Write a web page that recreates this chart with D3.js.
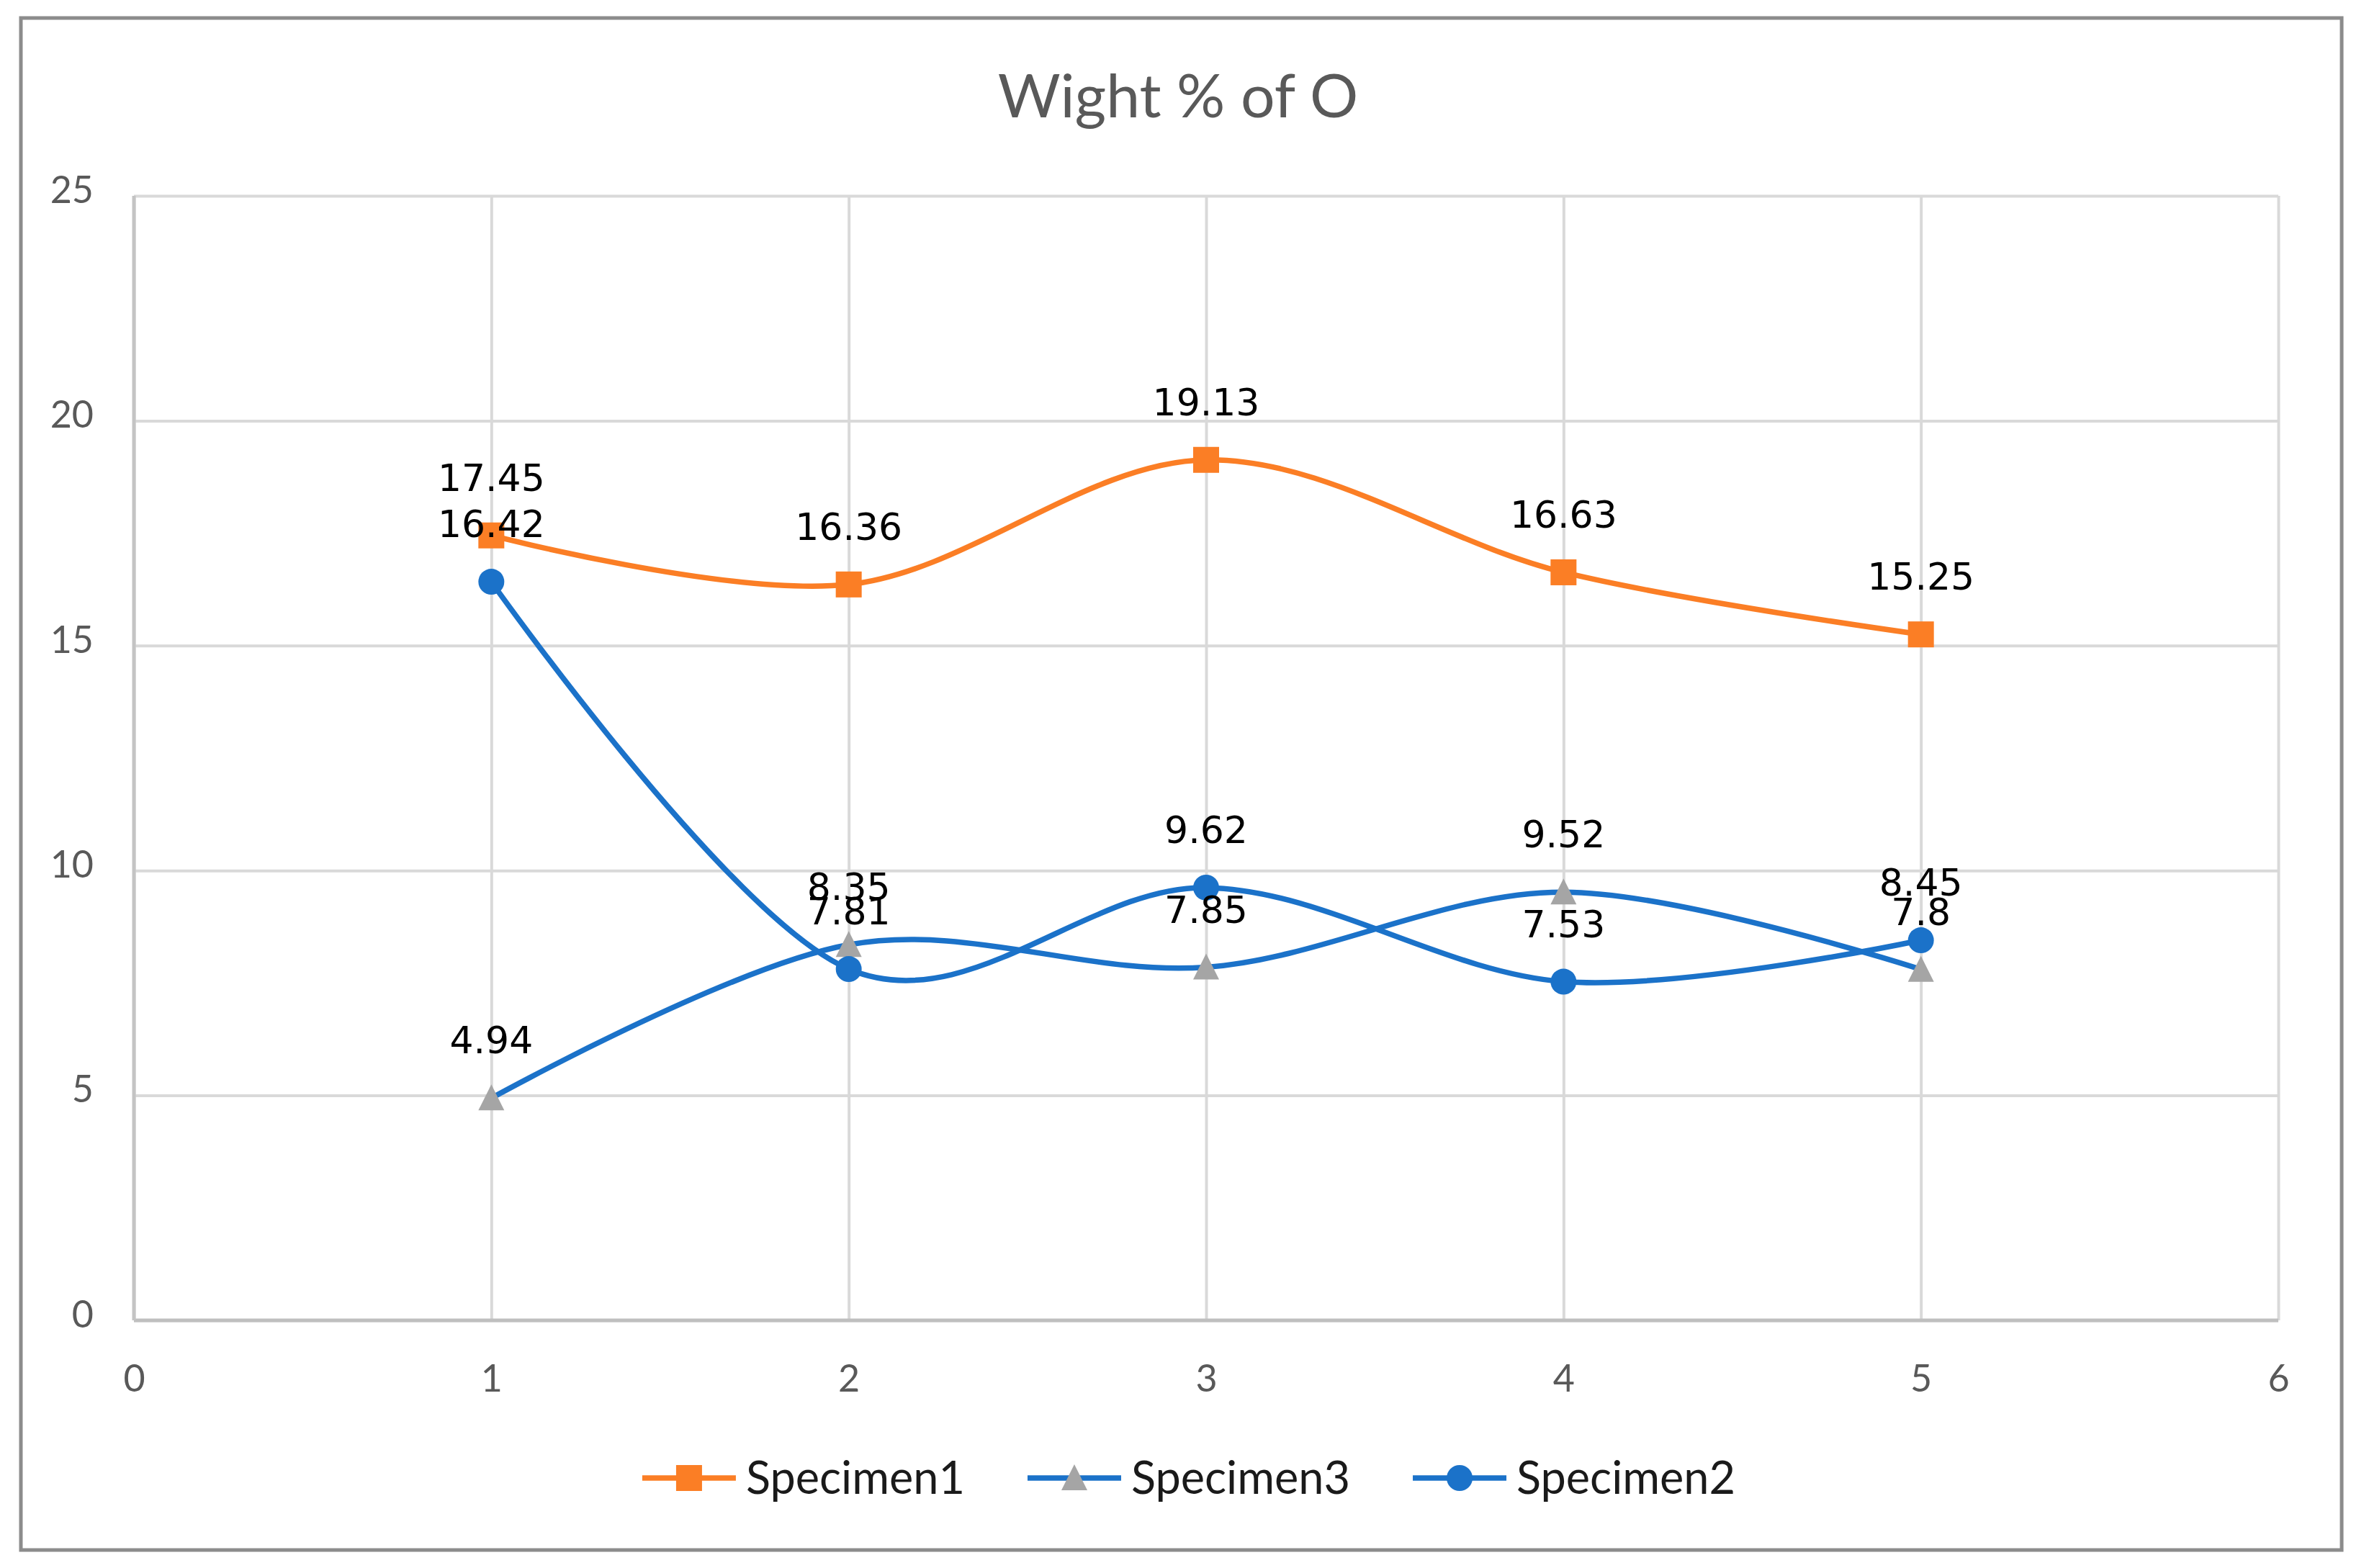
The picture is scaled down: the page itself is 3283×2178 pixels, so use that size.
<!DOCTYPE html>
<html>
<head>
<meta charset="utf-8">
<script src="https://cdn.jsdelivr.net/npm/d3@7"></script>
<style>
  body { margin: 0; background: #fff; }
</style>
</head>
<body>
<div id="chart"></div>
<script>
// data
var xValues = [1, 2, 3, 4, 5];
var specimen1 = [17.45, 16.36, 19.13, 16.63, 15.25];
var specimen3 = [4.94, 8.35, 7.85, 9.52, 7.8];
var specimen2 = [16.42, 7.81, 9.62, 7.53, 8.45];
var seriesNames = ['Specimen1', 'Specimen3', 'Specimen2'];
var xTickValues = [0, 1, 2, 3, 4, 5, 6];
var yTickValues = [0, 5, 10, 15, 20, 25];
var chartTitle = 'Wight % of O';

// svg container
var width = 3283;
var height = 2178;

// plot area
var margin = { top: 272, right: 119, bottom: 344, left: 186 };
var chartWidth = width - margin.left - margin.right;
var chartHeight = height - margin.top - margin.bottom;

var orange = '#fb7e25';
var blue = '#1b72c9';
var grey = '#a5a5a5';
var calibri = 'Lato, "Open Sans", sans-serif';

var svg = d3.select('#chart').append('svg')
    .attr('width', width)
    .attr('height', height)
    .style('display', 'block');

svg.append('rect')
    .attr('width', width)
    .attr('height', height)
    .attr('fill', '#fff');

// outer chart border
svg.append('rect')
    .attr('x', 29)
    .attr('y', 25)
    .attr('width', 3223)
    .attr('height', 2128)
    .attr('fill', 'none')
    .attr('stroke', '#8c8c8c')
    .attr('stroke-width', 5);

var chartGroup = svg.append('g')
    .attr('transform', `translate(${margin.left}, ${margin.top})`);

var xScale = d3.scaleLinear().domain([0, 6]).range([0, chartWidth]);
var yScale = d3.scaleLinear().domain([0, 25]).range([chartHeight, 0]);

// gridlines
var xGrid = chartGroup.append('g')
    .call(d3.axisBottom(xScale).tickValues(xTickValues).tickSize(chartHeight).tickFormat(''));
xGrid.select('.domain').remove();
xGrid.selectAll('line').attr('stroke', '#d9d9d9').attr('stroke-width', 4);

var yGrid = chartGroup.append('g')
    .call(d3.axisLeft(yScale).tickValues(yTickValues).tickSize(-chartWidth).tickFormat(''));
yGrid.select('.domain').remove();
yGrid.selectAll('line').attr('stroke', '#d9d9d9').attr('stroke-width', 4);

// axis lines
chartGroup.append('line')
    .attr('x1', 0).attr('x2', chartWidth)
    .attr('y1', yScale(0)).attr('y2', yScale(0))
    .attr('stroke', '#bfbfbf').attr('stroke-width', 5);
chartGroup.append('line')
    .attr('x1', xScale(0)).attr('x2', xScale(0))
    .attr('y1', 0).attr('y2', chartHeight)
    .attr('stroke', '#c4c4c4').attr('stroke-width', 5);

// tick labels
var xAxis = chartGroup.append('g')
    .attr('transform', `translate(0, ${chartHeight})`)
    .call(d3.axisBottom(xScale).tickValues(xTickValues).tickFormat(d3.format('d')).tickSize(0).tickPadding(62));
xAxis.select('.domain').remove();
xAxis.selectAll('text')
    .style('font-family', calibri)
    .style('font-size', '52px')
    .attr('fill', '#595959');

var yAxis = chartGroup.append('g')
    .call(d3.axisLeft(yScale).tickValues(yTickValues).tickFormat(d3.format('d')).tickSize(0).tickPadding(56));
yAxis.select('.domain').remove();
yAxis.selectAll('text')
    .style('font-family', calibri)
    .style('font-size', '52px')
    .attr('dy', '0.18em')
    .attr('fill', '#595959');

// title
svg.append('text')
    .attr('x', 1636)
    .attr('y', 163)
    .attr('text-anchor', 'middle')
    .style('font-family', calibri)
    .style('font-size', '84px')
    .attr('fill', '#595959')
    .text(chartTitle);

// series
var triangle = 'M0,-19L18,17L-18,17Z';
var series = [
    { name: seriesNames[0], values: specimen1, line: orange, marker: orange, shape: 'square' },
    { name: seriesNames[1], values: specimen3, line: blue, marker: grey, shape: 'triangle' },
    { name: seriesNames[2], values: specimen2, line: blue, marker: blue, shape: 'circle' }
];

function drawMarker(g, shape, color) {
    if (shape === 'square') {
        g.append('rect').attr('x', -18).attr('y', -18).attr('width', 36).attr('height', 36).attr('fill', color);
    } else if (shape === 'triangle') {
        g.append('path').attr('d', triangle).attr('fill', color);
    } else {
        g.append('circle').attr('r', 18).attr('fill', color);
    }
}

var line = d3.line()
    .x(function(d) { return xScale(d.x); })
    .y(function(d) { return yScale(d.y); })
    .curve(d3.curveCardinal.tension(0));

series.forEach(function(s) {
    var pts = xValues.map(function(x, i) { return { x: x, y: s.values[i] }; });
    chartGroup.append('path')
        .datum(pts)
        .attr('d', line)
        .attr('fill', 'none')
        .attr('stroke', s.line)
        .attr('stroke-width', 7.5)
        .attr('stroke-linecap', 'round');
    chartGroup.selectAll(null)
        .data(pts)
        .enter()
        .append('g')
        .attr('transform', function(d) { return `translate(${xScale(d.x)}, ${yScale(d.y)})`; })
        .each(function() { drawMarker(d3.select(this), s.shape, s.marker); });
});

// data labels
series.forEach(function(s) {
    chartGroup.selectAll(null)
        .data(s.values)
        .enter()
        .append('text')
        .attr('x', function(d, i) { return xScale(xValues[i]); })
        .attr('y', function(d) { return yScale(d) - 62; })
        .attr('text-anchor', 'middle')
        .style('font-family', '"DejaVu Sans", Verdana, sans-serif')
        .style('font-size', '52px')
        .attr('fill', '#000')
        .text(function(d) { return d; });
});

// legend
var legend = svg.append('g');
var lx = 0;
series.forEach(function(s, i) {
    var item = legend.append('g').attr('transform', `translate(${lx}, 0)`);
    item.append('line')
        .attr('x1', 0).attr('x2', 130)
        .attr('y1', 0).attr('y2', 0)
        .attr('stroke', s.line).attr('stroke-width', 7.5);
    var m = item.append('g').attr('transform', 'translate(65, 0)');
    drawMarker(m, s.shape, s.marker);
    var t = item.append('text')
        .attr('x', 144)
        .attr('y', 22)
        .style('font-family', calibri)
        .style('font-size', '63px')
        .attr('fill', '#1a1a1a')
        .text(s.name);
    lx += 144 + t.node().getComputedTextLength() + 87;
});
var legendWidth = lx - 87;
legend.attr('transform', `translate(${1651 - legendWidth / 2}, 2053)`);
</script>
</body>
</html>
